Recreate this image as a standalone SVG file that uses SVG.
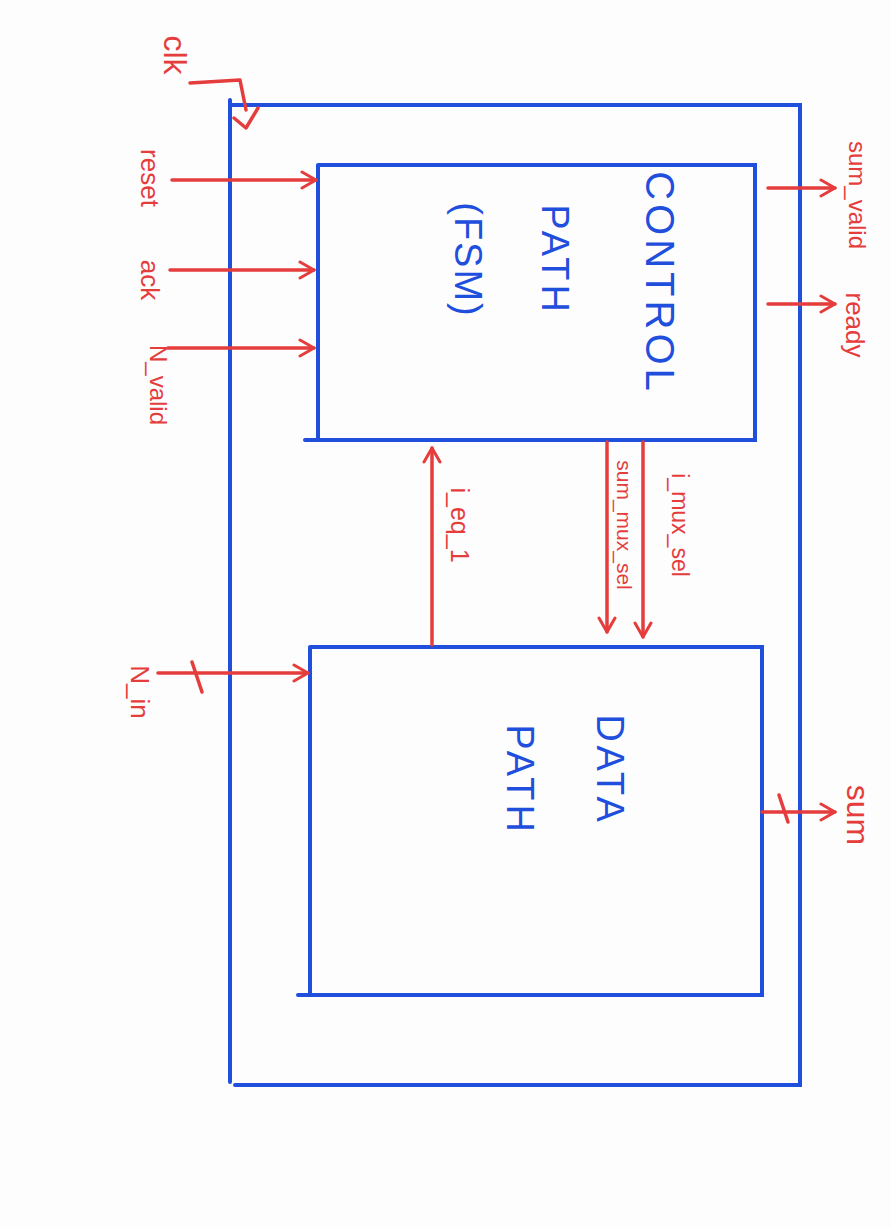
<svg xmlns="http://www.w3.org/2000/svg" width="891" height="1228" viewBox="0 0 891 1228">
<style>
.box{fill:none;stroke:#1f4fdc;stroke-width:4;stroke-linecap:round}
.w{fill:none;stroke:#e53c3c;stroke-width:3.5;stroke-linecap:round;stroke-linejoin:round}
.rt{fill:#e53c3c;font-family:"Liberation Sans",sans-serif;text-anchor:middle;dominant-baseline:central}
.bt{fill:#1f4fdc;font-family:"Liberation Sans",sans-serif;text-anchor:middle;dominant-baseline:central}
</style>
<defs>
<marker id="ah" viewBox="0 0 20 20" refX="18" refY="10" markerWidth="20" markerHeight="20" markerUnits="userSpaceOnUse" orient="auto">
<polyline points="4,2 18,10 4,18" fill="none" stroke="#e53c3c" stroke-width="3" stroke-linecap="round" stroke-linejoin="round"/>
</marker>
</defs>
<rect width="891" height="1228" fill="#fdfdfe"/>
<g id="outer">
<path class="box" d="M230,100 L230,1082 M230,105 L800,105 L800,1085 L235,1085"/>
</g>
<g id="control">
<path class="box" d="M318,165 L318,440 M318,165 L755,165 L755,440 L305,440"/>
<text class="bt" font-size="40" letter-spacing="4" transform="translate(660,283) rotate(90)">CONTROL</text>
<text class="bt" font-size="38" letter-spacing="4" transform="translate(555,260) rotate(90)">PATH</text>
<text class="bt" font-size="38" letter-spacing="2" transform="translate(468,260) rotate(90)">(FSM)</text>
</g>
<g id="datapath">
<path class="box" d="M310,648 L310,995 M310,647 L762,647 L762,995 L298,995"/>
<text class="bt" font-size="38" letter-spacing="4" transform="translate(610,770) rotate(90)">DATA</text>
<text class="bt" font-size="38" letter-spacing="4" transform="translate(520,780) rotate(90)">PATH</text>
</g>
<g id="connectors">
<path class="w" d="M190,83 L240,80 L246,110"/>
<path class="w" d="M234,118 L246,128 L258,108"/>
<line class="w" x1="172" y1="180" x2="316" y2="180" marker-end="url(#ah)"/>
<line class="w" x1="170" y1="270" x2="314" y2="270" marker-end="url(#ah)"/>
<line class="w" x1="168" y1="348" x2="314" y2="348" marker-end="url(#ah)"/>
<line class="w" x1="768" y1="188" x2="835" y2="188" marker-end="url(#ah)"/>
<line class="w" x1="768" y1="304" x2="835" y2="304" marker-end="url(#ah)"/>
<line class="w" x1="432" y1="645" x2="432" y2="448" marker-end="url(#ah)"/>
<line class="w" x1="607" y1="442" x2="607" y2="632" marker-end="url(#ah)"/>
<line class="w" x1="643" y1="442" x2="643" y2="637" marker-end="url(#ah)"/>
<line class="w" x1="158" y1="673" x2="308" y2="673" marker-end="url(#ah)"/>
<line class="w" x1="192" y1="662" x2="202" y2="692"/>
<line class="w" x1="762" y1="812" x2="835" y2="812" marker-end="url(#ah)"/>
<line class="w" x1="779" y1="795" x2="788" y2="822"/>
</g>
<g id="labels">
<text class="rt" font-size="32" transform="translate(175,55) rotate(90)">clk</text>
<text class="rt" font-size="26" transform="translate(150,178) rotate(90)">reset</text>
<text class="rt" font-size="26" transform="translate(150,280) rotate(90)">ack</text>
<text class="rt" font-size="24" transform="translate(158,385) rotate(90)">N_valid</text>
<text class="rt" font-size="24" transform="translate(857,195) rotate(90)">sum_valid</text>
<text class="rt" font-size="26" transform="translate(855,325) rotate(90)">ready</text>
<text class="rt" font-size="25" transform="translate(460,525) rotate(90)">i_eq_1</text>
<text class="rt" font-size="21" transform="translate(624,525) rotate(90)">sum_mux_sel</text>
<text class="rt" font-size="23" transform="translate(680,525) rotate(90)">i_mux_sel</text>
<text class="rt" font-size="26" transform="translate(140,692) rotate(90)">N_in</text>
<text class="rt" font-size="32" transform="translate(858,815) rotate(90)">sum</text>
</g>
</svg>
